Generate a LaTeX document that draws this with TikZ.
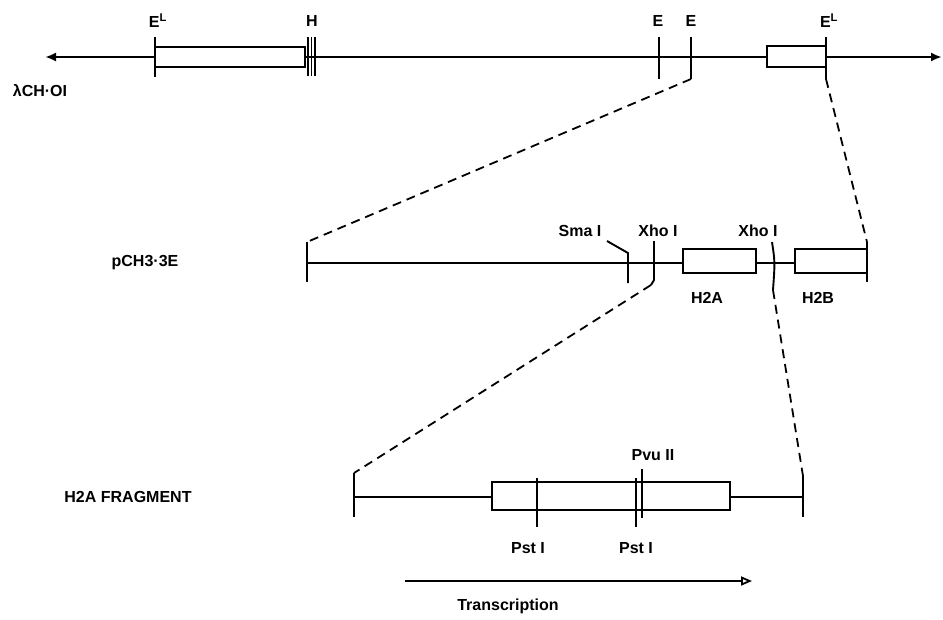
\documentclass[tikz,border=0pt]{standalone}
\usepackage{fontspec}
\setmainfont{Liberation Sans}
\usetikzlibrary{arrows.meta}

\tikzset{
  dna/.style={line width=2.4pt},
  site/.style={line width=1.9pt},
  zoomline/.style={line width=1.8pt, dash pattern=on 9pt off 6pt},
  lbl/.style={font=\fontsize{16}{18}\selectfont\bfseries, inner sep=1pt},
}

\begin{document}
\begin{tikzpicture}[x=1pt,y=-1pt]
	\useasboundingbox (0,0) rectangle (943,619);

	% lambda CH-01
	\draw[dna, -{Latex[length=11pt,width=9pt]}] (155,57) -- (45,57);
	\draw[dna] (155,47) rectangle (305,67);
	\draw[dna] (305,57) -- (767,57);
	\draw[dna] (767,46) rectangle (826,67);
	\draw[dna, -{Latex[length=11pt,width=9pt]}] (826,57) -- (942,57);
	\draw[site] (155,37) -- (155,77);
	\foreach \x in {308,311.5,315}
		\draw[site] (\x,37) -- (\x,76);
	\draw[site] (659,37) -- (659,79);
	\draw[site] (691,37) -- coordinate[pos=1] (eR) (691,79);
	\draw[site] (826,37) -- coordinate[pos=1] (elR) (826,79);
	\node[lbl] (elL) at (158,21) {E\textsuperscript{L}};
	\node[lbl] (hL) at (312,21) {H};
	\node[lbl] (eA) at (658,21) {E};
	\node[lbl] (eB) at (691,21) {E};
	\node[lbl] (elB) at (829,21) {E\textsuperscript{L}};
	\node[lbl] (lam) at (40,91) {λCH·OI};

	% pCH3.3E
	\draw[dna] (307,263) -- (683,263);
	\draw[dna] (683,249) rectangle (756,273);
	\draw[dna] (756,263) -- (795,263);
	\draw[dna] (795,249) rectangle (867,273);
	\draw[site] (307,242) coordinate (pL) -- (307,282);
	\draw[site] (867,242) coordinate (pR) -- (867,282);
	\draw[site] (607,241) -- (628,253) -- (628,283);
	\draw[site] (654,241) -- (654,280) -- (651,285) coordinate (xA);
	\draw[site] (772,242) .. controls (775,262) .. (773,290) coordinate (xB);
	\node[lbl] (sma) at (580,231) {Sma I};
	\node[lbl] (xhoA) at (658,231) {Xho I};
	\node[lbl] (xhoB) at (758,231) {Xho I};
	\node[lbl] (h2a) at (707,298) {H2A};
	\node[lbl] (h2b) at (818,298) {H2B};
	\node[lbl] (pch) at (145,263) {pCH3·3E};

	\draw[zoomline] (eR) -- (pL);
	\draw[zoomline] (elR) -- (pR);

	% H2A fragment
	\draw[dna] (354,497) -- (492,497);
	\draw[dna] (492,482) rectangle (730,510);
	\draw[dna] (730,497) -- (803,497);
	\draw[site] (354,473) coordinate (fL) -- (354,517);
	\draw[site] (803,476) coordinate (fR) -- (803,517);
	\draw[site] (537,478) -- (537,527);
	\draw[site] (636,478) -- (636,527);
	\draw[site] (642,469) -- (642,518);
	\node[lbl] (pvu) at (653,455) {Pvu II};
	\node[lbl] (pstA) at (528,548) {Pst I};
	\node[lbl] (pstB) at (636,548) {Pst I};
	\node[lbl] (frag) at (128,497) {H2A FRAGMENT};

	\draw[zoomline] (xA) -- (fL);
	\draw[zoomline] (xB) -- (fR);

	% transcription
	\coordinate (tS) at (405,581);
	\coordinate (tE) at (752,581);
	\draw[dna, -{Triangle[open, length=11pt, width=9pt, line width=1.8pt]}] (tS) -- (tE);
	\node[lbl] (trans) at (508,606) {Transcription};
\end{tikzpicture}
\end{document}
